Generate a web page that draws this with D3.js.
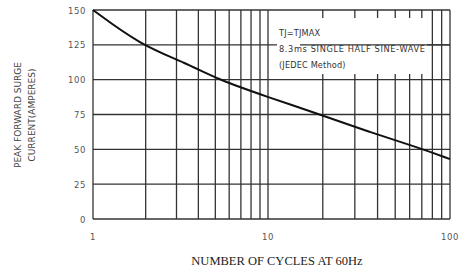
<!DOCTYPE html>
<html><head><meta charset="utf-8">
<script src="https://cdn.jsdelivr.net/npm/d3@7/dist/d3.min.js"></script>
<style>body{margin:0;background:#fff}svg{display:block}</style>
</head><body><svg id="c" width="464" height="273"></svg>
<script>
const cycles = [1, 1.86, 3.4, 5.2, 10, 19.3, 36, 68, 100];
const surge = [150, 125, 112, 100, 87.5, 75, 62.5, 51, 43];
const yTicks = [0, 25, 50, 75, 100, 125, 150];
const xGrid = [1,2,3,4,5,6,7,8,9,10,20,30,40,50,60,70,80,90,100];
const xLabels = [1, 10, 100];
const noteLines = ["TJ=TJMAX", "8.3ms SINGLE HALF SINE-WAVE", "(JEDEC Method)"];

const svg = d3.select("#c");
const L = 93, R = 450, T = 10, B = 219;
const x = d3.scaleLog().domain([1, 10, 100]).range([L, 268, R]);
const y = d3.scaleLinear().domain([0, 150]).range([B, T]);
const gridColor = "#333";

const g = svg.append("g");
g.selectAll("line.v").data(xGrid).join("line")
  .attr("x1", d => x(d)).attr("x2", d => x(d)).attr("y1", T).attr("y2", B)
  .attr("stroke", gridColor).attr("stroke-width", 1.3);
g.selectAll("line.h").data(yTicks).join("line")
  .attr("x1", L).attr("x2", R).attr("y1", d => y(d)).attr("y2", d => y(d))
  .attr("stroke", gridColor).attr("stroke-width", 1.3);

// note box covering vertical grid
g.append("rect").attr("x", 277).attr("y", 18).attr("width", 150).attr("height", 56).attr("fill", "#fff");
g.append("line").attr("x1", 300).attr("x2", R).attr("y1", y(125)).attr("y2", y(125))
  .attr("stroke", gridColor).attr("stroke-width", 1.3);

g.selectAll("text.note").data(noteLines).join("text")
  .attr("x", 279).attr("y", (d, i) => 36 + i * 16)
  .attr("font-family", "DejaVu Sans").attr("font-size", 8.2).attr("letter-spacing", 0.15).attr("fill", "#333")
  .attr("textLength", (d, i) => i === 1 ? 146 : null)
  .text(d => d);

const line = d3.line().x(d => x(d[0])).y(d => y(d[1])).curve(d3.curveBasis);
g.append("path").datum(cycles.map((c, i) => [c, surge[i]]))
  .attr("d", line).attr("fill", "none").attr("stroke", "#111").attr("stroke-width", 2);

g.selectAll("text.yt").data(yTicks).join("text")
  .attr("x", 86).attr("y", d => y(d) + 3.5).attr("text-anchor", "end")
  .attr("font-family", "DejaVu Sans").attr("font-size", 8.5).attr("letter-spacing", 0.6).attr("fill", "#555")
  .text(d => d);
g.selectAll("text.xt").data(xLabels).join("text")
  .attr("x", d => x(d)).attr("y", 240).attr("text-anchor", "middle")
  .attr("font-family", "DejaVu Sans").attr("font-size", 8.5).attr("letter-spacing", 0.6).attr("fill", "#555")
  .text(d => d);

const yt = svg.append("text").attr("transform", "translate(21,115) rotate(-90)")
  .attr("text-anchor", "middle").attr("font-family", "DejaVu Sans").attr("font-size", 9).attr("fill", "#444");
yt.append("tspan").attr("x", 0).attr("dy", 0).text("PEAK FORWARD SURGE");
yt.append("tspan").attr("x", 0).attr("dy", 14).text("CURRENT(AMPERES)");

svg.append("text").attr("x", 277).attr("y", 265).attr("text-anchor", "middle")
  .attr("font-family", "Liberation Serif").attr("font-size", 12.5).attr("fill", "#222")
  .text("NUMBER OF CYCLES AT 60Hz");
</script></body></html>
